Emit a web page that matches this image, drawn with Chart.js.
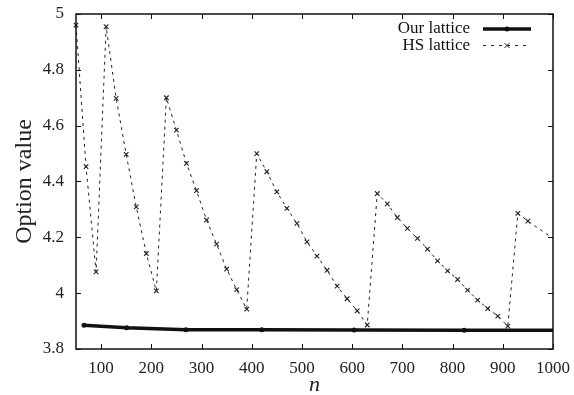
<!DOCTYPE html>
<html>
<head>
<meta charset="utf-8">
<script src="https://cdn.jsdelivr.net/npm/chart.js@4"></script>
<style>
  html, body { margin: 0; padding: 0; background: #fff; }
</style>
</head>
<body>
<canvas id="chart" width="574" height="395"></canvas>
<script>
// values
const hsN = [50, 70, 90, 110, 130, 150, 170, 190, 210, 230, 250, 270, 290, 310, 330, 350, 370, 390,
  410, 430, 450, 470, 490, 510, 530, 550, 570, 590, 610, 630, 650, 670, 690, 710, 730, 750, 770,
  790, 810, 830, 850, 870, 890, 910, 930, 950, 1000];
const hsValue = [4.96, 4.453, 4.076, 4.955, 4.698, 4.497, 4.309, 4.142, 4.008, 4.70, 4.584, 4.465,
  4.367, 4.262, 4.176, 4.086, 4.013, 3.943, 4.50, 4.435, 4.363, 4.304, 4.25, 4.184, 4.133, 4.082,
  4.025, 3.980, 3.937, 3.886, 4.357, 4.32, 4.271, 4.232, 4.196, 4.158, 4.116, 4.08, 4.049, 4.011,
  3.975, 3.945, 3.918, 3.882, 4.286, 4.258, 4.196];
const ourN = [66, 151, 269, 420, 604, 823, 1000];
const ourValue = [3.885, 3.876, 3.869, 3.869, 3.868, 3.867, 3.867];
const xTicks = [100, 200, 300, 400, 500, 600, 700, 800, 900, 1000];
const yTicks = [3.8, 4, 4.2, 4.4, 4.6, 4.8, 5];

const serif = "'Liberation Serif', 'DejaVu Serif', serif";
const ink = '#111';

function toPoints(xs, ys) {
  return xs.map((x, i) => ({ x, y: ys[i] }));
}

// gnuplot style: closed frame, inward mirrored ticks, key in top right
const gnuFrame = {
  id: 'gnuFrame',
  afterDraw(chart) {
    const { ctx, chartArea: a, scales } = chart;
    const x = scales.x, y = scales.y;
    ctx.save();
    ctx.strokeStyle = ink;
    ctx.lineWidth = 1;
    ctx.beginPath();
    xTicks.forEach(v => {
      const px = Math.round(x.getPixelForValue(v)) + 0.5;
      ctx.moveTo(px, a.bottom); ctx.lineTo(px, a.bottom - 5);
      ctx.moveTo(px, a.top); ctx.lineTo(px, a.top + 5);
    });
    yTicks.forEach(v => {
      const py = Math.round(y.getPixelForValue(v)) + 0.5;
      ctx.moveTo(a.left, py); ctx.lineTo(a.left + 5, py);
      ctx.moveTo(a.right, py); ctx.lineTo(a.right - 5, py);
    });
    ctx.stroke();
    ctx.lineWidth = 1.5;
    ctx.strokeRect(a.left, a.top, a.right - a.left, a.bottom - a.top);

    // key
    const sampleRight = a.right - 22, sampleLen = 48;
    ctx.font = '17px ' + serif;
    ctx.textAlign = 'right';
    ctx.textBaseline = 'middle';
    chart.data.datasets.forEach((ds, i) => {
      const cy = a.top + 15 + i * 16.5;
      const x0 = sampleRight - sampleLen;
      ctx.fillStyle = ink;
      ctx.fillText(ds.label, x0 - 13, cy);
      ctx.strokeStyle = ds.borderColor;
      ctx.lineWidth = ds.borderWidth;
      ctx.setLineDash(ds.borderDash ? [3, 5] : []);
      ctx.beginPath();
      ctx.moveTo(x0, cy); ctx.lineTo(sampleRight, cy);
      ctx.stroke();
      ctx.setLineDash([]);
      const mx = x0 + sampleLen / 2;
      if (ds.pointStyle === 'crossRot') {
        ctx.lineWidth = 1;
        ctx.beginPath();
        ctx.moveTo(mx - 2.5, cy - 2.5); ctx.lineTo(mx + 2.5, cy + 2.5);
        ctx.moveTo(mx + 2.5, cy - 2.5); ctx.lineTo(mx - 2.5, cy + 2.5);
        ctx.stroke();
      } else {
        ctx.fillStyle = ds.pointBackgroundColor;
        ctx.beginPath();
        ctx.arc(mx, cy, 2.5, 0, Math.PI * 2);
        ctx.fill();
      }
    });
    ctx.restore();
  }
};

new Chart(document.getElementById('chart'), {
  type: 'line',
  data: {
    datasets: [
      {
        label: 'Our lattice',
        data: toPoints(ourN, ourValue),
        borderColor: ink,
        backgroundColor: ink,
        pointBackgroundColor: ink,
        borderWidth: 3.5,
        pointStyle: 'circle',
        pointRadius: c => c.dataIndex === ourN.length - 1 ? 0 : 2.5,
        pointBorderWidth: 0,
        tension: 0,
        clip: false
      },
      {
        label: 'HS lattice',
        data: toPoints(hsN, hsValue),
        borderColor: '#222',
        backgroundColor: '#222',
        borderWidth: 1,
        borderDash: [3, 4],
        pointStyle: 'crossRot',
        pointRadius: c => c.dataIndex === hsN.length - 1 ? 0 : 3.2,
        pointBorderWidth: 1.1,
        tension: 0,
        clip: false
      }
    ]
  },
  options: {
    responsive: false,
    animation: false,
    layout: { padding: { top: 14, right: 21, left: 0, bottom: 0 } },
    plugins: {
      legend: { display: false },
      tooltip: { enabled: false }
    },
    scales: {
      x: {
        type: 'linear',
        min: 50,
        max: 1000,
        afterBuildTicks: s => { s.ticks = xTicks.map(v => ({ value: v })); },
        afterFit: s => { s.height = 46; s.paddingLeft = 0; s.paddingRight = 0; },
        grid: { display: false, drawTicks: false },
        border: { display: false },
        ticks: {
          autoSkip: false,
          maxRotation: 0,
          padding: 9,
          color: '#222',
          font: { family: serif, size: 17 },
          callback: v => String(v)
        },
        title: {
          display: true,
          text: 'n',
          color: '#222',
          padding: { top: 0, bottom: -3 },
          font: { family: serif, size: 22, style: 'italic' }
        }
      },
      y: {
        min: 3.8,
        max: 5,
        afterBuildTicks: s => { s.ticks = yTicks.map(v => ({ value: v })); },
        afterFit: s => { s.width = 76; s.paddingTop = 0; s.paddingBottom = 0; },
        grid: { display: false, drawTicks: false },
        border: { display: false },
        ticks: {
          padding: 12,
          color: '#222',
          font: { family: serif, size: 17 },
          callback: v => String(v)
        },
        title: {
          display: true,
          text: 'Option value',
          color: '#222',
          padding: { top: 10, bottom: 0 },
          font: { family: serif, size: 24 }
        }
      }
    }
  },
  plugins: [gnuFrame]
});
</script>
</body>
</html>
